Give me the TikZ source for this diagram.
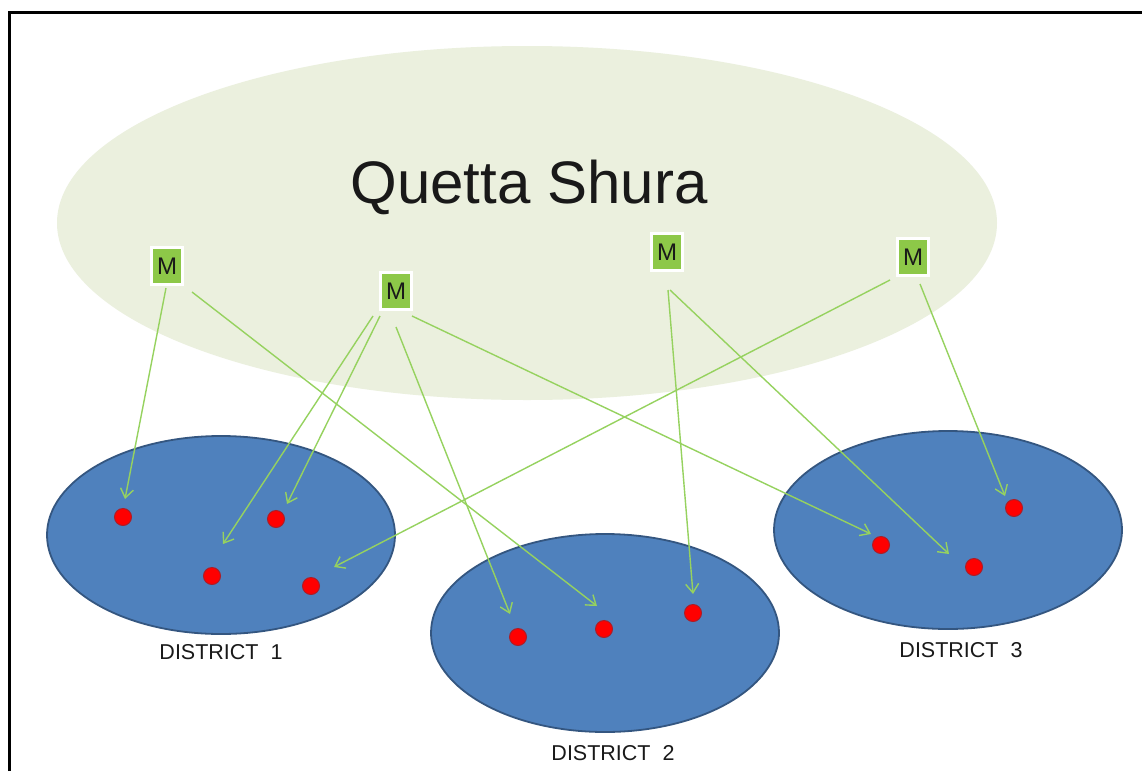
\documentclass[tikz,border=0pt]{standalone}
\usepackage{fontspec}
\setmainfont{Liberation Sans}
\usetikzlibrary{shapes.geometric,arrows.meta}
\definecolor{shuracol}{RGB}{235,240,222}
\definecolor{distfill}{RGB}{79,129,189}
\definecolor{distline}{RGB}{52,86,128}
\definecolor{mgreen}{RGB}{141,200,72}
\definecolor{arrowgreen}{RGB}{150,210,95}
\definecolor{dotline}{RGB}{170,30,40}
\definecolor{txt}{RGB}{25,25,25}
\tikzset{
  district/.style={ellipse, fill=distfill, draw=distline, line width=1.8pt, inner sep=0pt, minimum width=348pt, minimum height=198pt},
  mbox/.style={rectangle, fill=mgreen, draw=white, line width=3pt, minimum width=31pt, minimum height=37pt, inner sep=0pt, text=txt, font=\fontsize{24}{26}\selectfont},
  reddot/.style={circle, fill=red, draw=dotline, line width=1pt, minimum size=17pt, inner sep=0pt},
  dlabel/.style={font=\fontsize{21.5}{24}\selectfont, text=txt, inner sep=0pt},
  link/.style={draw=arrowgreen, line width=1.4pt, -{Straight Barb[length=9pt,width=13pt,line width=1.4pt]}}
}
\begin{document}
\begin{tikzpicture}[x=1pt,y=-1pt]
\useasboundingbox (0,0) rectangle (1142,771);
\fill[white] (0,0) rectangle (1142,771);
\draw[line width=3pt, black] (9,771) -- (9,12) -- (1142,12);

% Shura ellipse
\node[ellipse, fill=shuracol, inner sep=0pt, minimum width=940pt, minimum height=354pt] (shura) at (527,223) {};
\node[font=\fontsize{60}{64}\selectfont, text=txt, inner sep=0pt] (title) at (529,187) {Quetta Shura};

% Districts
\node[district] (dist1) at (221,535) {};
\node[district] (dist2) at (605,633) {};
\node[district] (dist3) at (948,530) {};
\node[dlabel] (lab1) at (221,652) {DISTRICT\ \ 1};
\node[dlabel] (lab2) at (613,753) {DISTRICT\ \ 2};
\node[dlabel] (lab3) at (961,650) {DISTRICT\ \ 3};

% Red dots
\node[reddot] (d1a) at (123,517) {};
\node[reddot] (d1b) at (276,519) {};
\node[reddot] (d1c) at (212,576) {};
\node[reddot] (d1d) at (311,586) {};
\node[reddot] (d2a) at (518,637) {};
\node[reddot] (d2b) at (604,629) {};
\node[reddot] (d2c) at (693,613) {};
\node[reddot] (d3a) at (881,545) {};
\node[reddot] (d3b) at (974,567) {};
\node[reddot] (d3c) at (1014,508) {};

% M boxes
\node[mbox] (m1) at (167,266) {M};
\node[mbox] (m2) at (396,291) {M};
\node[mbox] (m3) at (667,252) {M};
\node[mbox] (m4) at (913,257) {M};

% arrow ends
\coordinate (s1) at (166,288);  \coordinate (e1) at (125,499);
\coordinate (s2) at (192,292);  \coordinate (e2) at (597,606);
\coordinate (s3) at (373,316);  \coordinate (e3) at (223,544);
\coordinate (s4) at (380,316);  \coordinate (e4) at (287,504);
\coordinate (s5) at (396,327);  \coordinate (e5) at (510,614);
\coordinate (s6) at (412,316);  \coordinate (e6) at (871,534);
\coordinate (s7) at (668,290);  \coordinate (e7) at (693,594);
\coordinate (s8) at (670,290);  \coordinate (e8) at (949,554);
\coordinate (s9) at (890,280);  \coordinate (e9) at (334,567);
\coordinate (s10) at (920,284); \coordinate (e10) at (1005,496);

\draw[link] (s1) -- (e1);
\draw[link] (s2) -- (e2);
\draw[link] (s3) -- (e3);
\draw[link] (s4) -- (e4);
\draw[link] (s5) -- (e5);
\draw[link] (s6) -- (e6);
\draw[link] (s7) -- (e7);
\draw[link] (s8) -- (e8);
\draw[link] (s9) -- (e9);
\draw[link] (s10) -- (e10);
\end{tikzpicture}
\end{document}
